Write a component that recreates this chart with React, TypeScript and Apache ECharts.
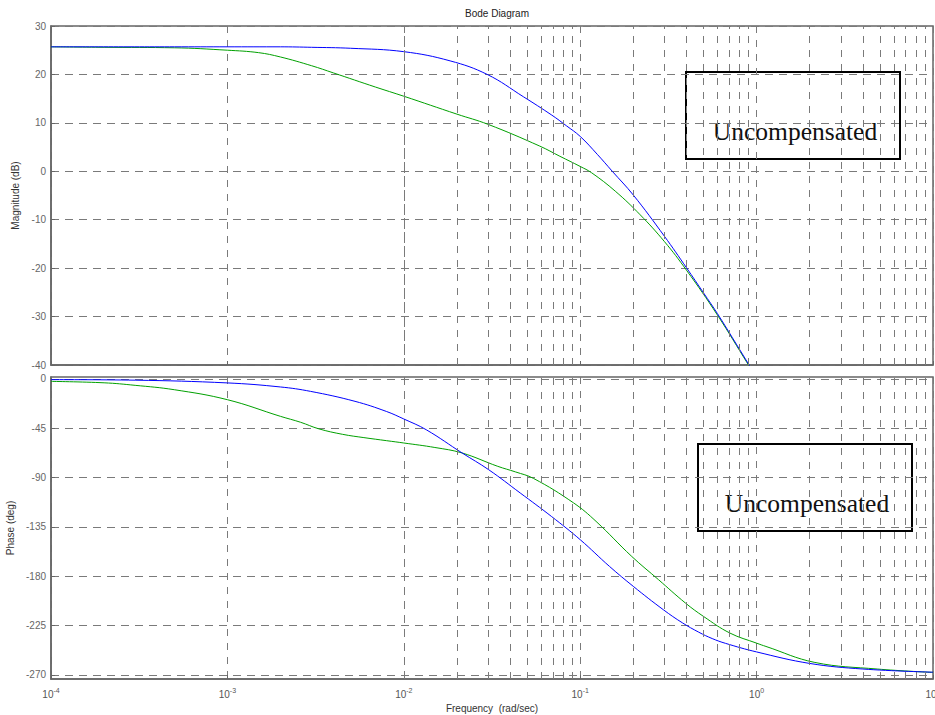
import React, { useEffect, useRef } from "react";
import * as echarts from "echarts";

// ---------- data ----------
const magBlueFreq = [0.0001, 0.0005, 0.001, 0.002, 0.003, 0.005, 0.01, 0.0183, 0.0297, 0.0476, 0.069, 0.0835, 0.1, 0.125, 0.152, 0.2, 0.3, 0.4, 0.5, 0.6, 0.73, 0.9, 1.0];
const magBlue = [25.7, 25.7, 25.7, 25.7, 25.6, 25.4, 24.7, 22.8, 20.0, 15.4, 11.6, 9.4, 7.2, 3.5, 0.0, -4.9, -13.4, -19.9, -25.1, -29.4, -34.4, -39.8, -42.5];

const magGreenFreq = [0.0001, 0.0002, 0.0005, 0.001, 0.0015, 0.002, 0.003, 0.004, 0.0069, 0.01, 0.02, 0.03, 0.059, 0.0767, 0.1, 0.116, 0.158, 0.219, 0.3, 0.4, 0.6, 0.9, 1.0];
const magGreen = [25.7, 25.6, 25.5, 25.0, 24.5, 23.6, 21.8, 20.3, 17.4, 15.5, 11.8, 9.7, 5.2, 3.1, 1.0, -0.3, -4.1, -9.0, -14.5, -20.4, -29.7, -40.0, -42.5];

const phBlueFreq = [0.0001, 0.0003, 0.001, 0.002, 0.00296, 0.00529, 0.00796, 0.01, 0.0134, 0.0214, 0.0303, 0.0457, 0.0687, 0.1, 0.1466, 0.2, 0.296, 0.38, 0.47, 0.56, 0.667, 1.0, 2.0, 4.0, 10];
const phBlue = [-0.6, -1.1, -3.6, -7.3, -11.3, -20.4, -29.6, -36.5, -46.3, -67.5, -82.8, -104.0, -125.4, -146.6, -171.0, -189.2, -210.5, -222.5, -231.0, -236.8, -241.2, -249.0, -259.5, -264.6, -267.5];

const phGreenFreq = [0.0001, 0.0002, 0.0003, 0.0005, 0.001, 0.002, 0.0026, 0.0033, 0.0045, 0.00594, 0.008, 0.01, 0.015, 0.0214, 0.0341, 0.043, 0.0545, 0.0918, 0.123, 0.196, 0.278, 0.395, 0.5, 0.706, 1.0, 1.13, 2.14, 4.83, 10];
const phGreen = [-2.2, -3.5, -5.8, -9.8, -18.9, -34.1, -39.5, -45.5, -50.5, -53.5, -56.3, -58.4, -62.5, -67.5, -79.7, -84.8, -90.8, -113.1, -129.9, -161.9, -183.1, -204.4, -216.6, -231.8, -241.0, -244.0, -258.6, -264.6, -267.7];

const magTicks = [30, 20, 10, 0, -10, -20, -30, -40];
const phaseTicks = [0, -45, -90, -135, -180, -225, -270];
const decades = [0.0001, 0.001, 0.01, 0.1, 1, 10];
const minorMultipliers = [2, 3, 4, 5, 6, 7, 8, 9];

const titleText = "Bode Diagram";
const magName = "Magnitude (dB)";
const phaseName = "Phase (deg)";
const freqName = "Frequency  (rad/sec)";
const boxText = "Uncompensated";

const FONT = "'Liberation Sans', Arial, Helvetica, sans-serif";
const SERIF = "'Liberation Serif', 'Times New Roman', serif";
const GRID_COLOR = "#7a7a7a";
const FRAME = "#666";

const pairs = (xs: number[], ys: number[]) => xs.map((x, i) => [x, ys[i]]);

export default function App() {
  const ref = useRef<HTMLDivElement>(null);
  useEffect(() => {
    if (!ref.current) return;
    const chart = echarts.init(ref.current, undefined, { renderer: "svg" });

    const minorFreqs: number[] = [];
    decades.slice(0, -1).forEach((d) => minorMultipliers.forEach((m) => minorFreqs.push(+(d * m).toPrecision(3))));

    const xAxisBase = (gridIndex: number, labels: boolean) => ({
      type: "log",
      logBase: 10,
      gridIndex,
      min: 0.0001,
      max: 10,
      axisLine: { show: true, onZero: false, lineStyle: { color: FRAME, width: 1.5 } },
      axisTick: { show: true, inside: true, length: 4, lineStyle: { color: FRAME } },
      splitLine: { show: true, lineStyle: { color: GRID_COLOR, width: 1, type: [7, 7] } },
      axisLabel: labels
        ? {
            show: true,
            margin: 8,
            hideOverlap: false,
            formatter: (v: number) => `{b|10}{s|${Math.round(Math.log10(v))}}`,
            rich: {
              b: { fontSize: 10, color: "#555", fontFamily: FONT },
              s: { fontSize: 7, color: "#555", fontFamily: FONT, padding: [0, 0, 8, 0] },
            },
          }
        : { show: false },
      name: labels ? freqName : "",
      nameLocation: "middle",
      nameGap: 24,
      nameTextStyle: { fontSize: 10, color: "#333", fontFamily: FONT },
    });

    const minorLines = (xi: number, yi: number) => ({
      type: "line",
      xAxisIndex: xi,
      yAxisIndex: yi,
      data: [],
      silent: true,
      markLine: {
        silent: true,
        symbol: "none",
        animation: false,
        label: { show: false },
        lineStyle: { color: GRID_COLOR, width: 1, type: [7, 7] },
        data: minorFreqs.map((v) => ({ xAxis: v })),
      },
    });

    const curve = (xi: number, yi: number, xs: number[], ys: number[], color: string) => ({
      type: "line",
      xAxisIndex: xi,
      yAxisIndex: yi,
      data: pairs(xs, ys),
      showSymbol: false,
      smooth: 0.4,
      clip: true,
      lineStyle: { color, width: 1 },
      itemStyle: { color },
      silent: true,
    });

    const gridBase = { left: 51, width: 882, show: true, borderColor: FRAME, borderWidth: 1.5, backgroundColor: "transparent", containLabel: false, outerBoundsMode: "none" };

    chart.setOption({
      animation: false,
      backgroundColor: "#fff",
      title: {
        text: titleText,
        left: 492,
        top: 3,
        textAlign: "center",
        textStyle: { fontSize: 10, fontWeight: "normal", color: "#222", fontFamily: FONT },
      },
      grid: [
        { ...gridBase, top: 26, height: 339 },
        { ...gridBase, top: 377, height: 302 },
      ],
      xAxis: [xAxisBase(0, false), xAxisBase(1, true)],
      yAxis: [
        {
          type: "value",
          gridIndex: 0,
          min: -40,
          max: 30,
          interval: 10,
          axisLine: { show: true, onZero: false, lineStyle: { color: FRAME, width: 1.5 } },
          axisTick: { show: true, inside: true, length: 4, lineStyle: { color: FRAME } },
          splitLine: { show: true, lineStyle: { color: GRID_COLOR, width: 1, type: [8, 6] } },
          axisLabel: { fontSize: 10, color: "#666", margin: 5, fontFamily: FONT, customValues: magTicks },
          name: magName,
          nameLocation: "middle",
          nameRotate: 90,
          nameGap: 20,
          nameTextStyle: { fontSize: 10, color: "#333", fontFamily: FONT },
        },
        {
          type: "value",
          gridIndex: 1,
          min: -273.7,
          max: 1.8,
          axisLine: { show: true, onZero: false, lineStyle: { color: FRAME, width: 1.5 } },
          axisTick: { show: true, inside: true, length: 4, lineStyle: { color: FRAME }, customValues: phaseTicks },
          splitLine: { show: true, lineStyle: { color: GRID_COLOR, width: 1, type: [8, 6] } },
          axisLabel: { fontSize: 10, color: "#666", margin: 5, fontFamily: FONT, customValues: phaseTicks },
          name: phaseName,
          nameLocation: "middle",
          nameRotate: 90,
          nameGap: 26,
          nameTextStyle: { fontSize: 10, color: "#333", fontFamily: FONT },
        },
      ],
      series: [
        minorLines(0, 0),
        minorLines(1, 1),
        curve(0, 0, magGreenFreq, magGreen, "#00a000"),
        curve(0, 0, magBlueFreq, magBlue, "#0000ff"),
        curve(1, 1, phGreenFreq, phGreen, "#00a000"),
        curve(1, 1, phBlueFreq, phBlue, "#0000ff"),
      ],
      graphic: [
        {
          type: "group",
          z: 100,
          children: [
            { type: "rect", shape: { x: 686, y: 72, width: 214, height: 87 }, style: { fill: "#fff", stroke: "#000", lineWidth: 2 } },
            { type: "text", x: 795, y: 131, style: { text: boxText, fontSize: 25.5, fontFamily: SERIF, fill: "#111", align: "center", verticalAlign: "middle" } },
            { type: "rect", shape: { x: 698, y: 444, width: 214, height: 87 }, style: { fill: "#fff", stroke: "#000", lineWidth: 2 } },
            { type: "text", x: 807, y: 503, style: { text: boxText, fontSize: 25.5, fontFamily: SERIF, fill: "#111", align: "center", verticalAlign: "middle" } },
          ],
        },
      ],
    });

    return () => chart.dispose();
  }, []);

  return <div ref={ref} style={{ position: "absolute", left: 0, top: 0, width: 935, height: 715 }} />;
}
